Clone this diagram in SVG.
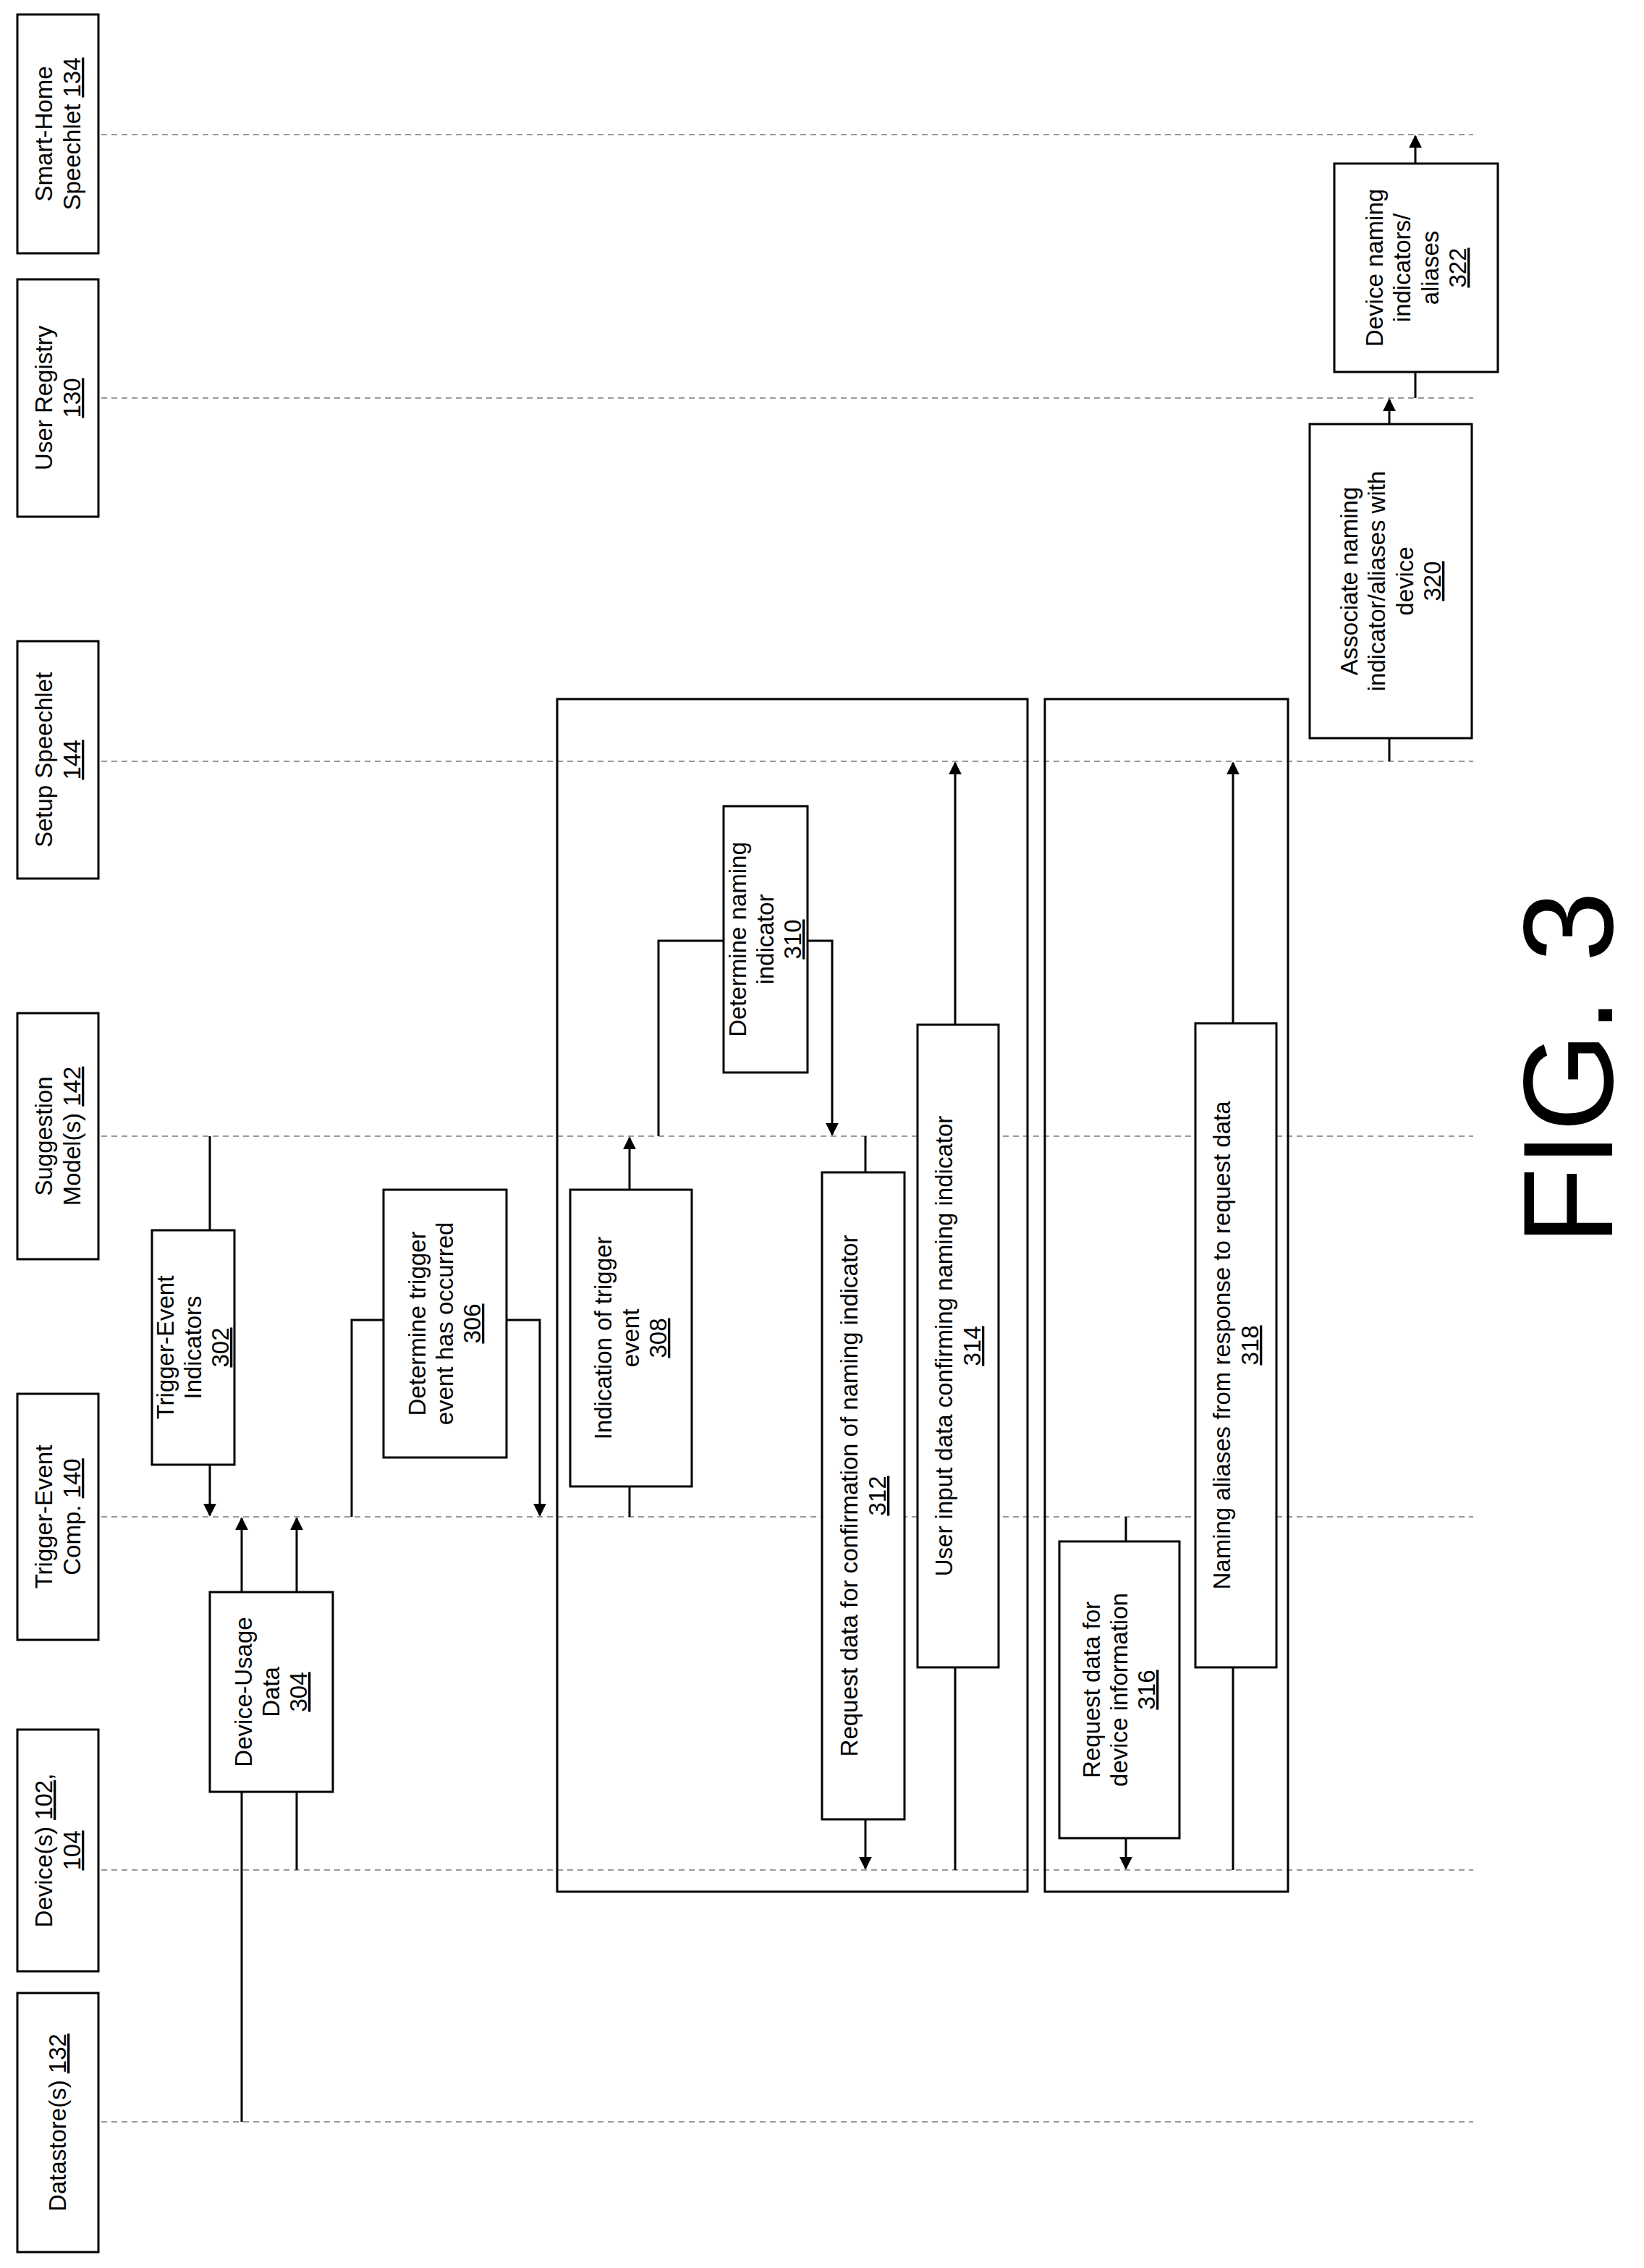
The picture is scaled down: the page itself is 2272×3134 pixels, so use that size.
<svg xmlns="http://www.w3.org/2000/svg" width="2272" height="3134" viewBox="0 0 2272 3134">
<style>
.b{fill:#fff;stroke:#000;stroke-width:3}
.f{fill:none;stroke:#000;stroke-width:3}
.l{fill:none;stroke:#000;stroke-width:3}
.d{fill:none;stroke:#999;stroke-width:2;stroke-dasharray:8 6}
text{font-family:"Liberation Sans",Arial,sans-serif;font-size:33px;text-anchor:middle;fill:#000}
.u{text-decoration:underline}
</style>
<defs><marker id="a" viewBox="0 0 10 10" refX="9" refY="5" markerWidth="18" markerHeight="18" orient="auto" markerUnits="userSpaceOnUse"><path d="M0,0L10,5L0,10z" fill="#000"/></marker></defs>
<rect width="2272" height="3134" fill="#fff"/>
<g id="lifelines">
<line class="d" x1="140" y1="186" x2="2036" y2="186"/>
<line class="d" x1="140" y1="550" x2="2036" y2="550"/>
<line class="d" x1="140" y1="1052" x2="2036" y2="1052"/>
<line class="d" x1="140" y1="1570" x2="2036" y2="1570"/>
<line class="d" x1="140" y1="2096" x2="2036" y2="2096"/>
<line class="d" x1="140" y1="2584" x2="2036" y2="2584"/>
<line class="d" x1="140" y1="2932" x2="2036" y2="2932"/>
</g>
<g id="frames">
<rect class="f" x="770" y="966" width="650" height="1648"/>
<rect class="f" x="1444" y="966" width="336" height="1648"/>
</g>
<g id="connectors">
<path class="l" d="M290,1570V1700"/><path class="l" d="M290,2024V2094" marker-end="url(#a)"/>
<path class="l" d="M334,2932V2098" marker-end="url(#a)"/>
<path class="l" d="M410,2584V2098" marker-end="url(#a)"/>
<path class="l" d="M486,2096V1824H530"/>
<path class="l" d="M700,1824H746V2094" marker-end="url(#a)"/>
<path class="l" d="M870,2096V2054"/><path class="l" d="M870,1644V1572" marker-end="url(#a)"/>
<path class="l" d="M910,1570V1300H1000"/>
<path class="l" d="M1116,1300H1150V1568" marker-end="url(#a)"/>
<path class="l" d="M1196,1570V1620"/><path class="l" d="M1196,2514V2582" marker-end="url(#a)"/>
<path class="l" d="M1320,2584V2304"/><path class="l" d="M1320,1416V1054" marker-end="url(#a)"/>
<path class="l" d="M1556,2096V2130"/><path class="l" d="M1556,2540V2582" marker-end="url(#a)"/>
<path class="l" d="M1704,2584V2304"/><path class="l" d="M1704,1414V1054" marker-end="url(#a)"/>
<path class="l" d="M1920,1052V1020"/><path class="l" d="M1920,586V552" marker-end="url(#a)"/>
<path class="l" d="M1956,550V514"/><path class="l" d="M1956,226V188" marker-end="url(#a)"/>
</g>
<g id="h134"><rect class="b" x="24" y="20" width="112" height="330"/><g transform="translate(80,185) rotate(-90)"><text y="-8">Smart-Home</text><text y="31">Speechlet <tspan class="u">134</tspan></text></g></g>
<g id="h130"><rect class="b" x="24" y="386" width="112" height="328"/><g transform="translate(80,550) rotate(-90)"><text y="-8">User Registry</text><text y="31" class="u">130</text></g></g>
<g id="h144"><rect class="b" x="24" y="886" width="112" height="328"/><g transform="translate(80,1050) rotate(-90)"><text y="-8">Setup Speechlet</text><text y="31" class="u">144</text></g></g>
<g id="h142"><rect class="b" x="24" y="1400" width="112" height="340"/><g transform="translate(80,1570) rotate(-90)"><text y="-8">Suggestion</text><text y="31">Model(s) <tspan class="u">142</tspan></text></g></g>
<g id="h140"><rect class="b" x="24" y="1926" width="112" height="340"/><g transform="translate(80,2096) rotate(-90)"><text y="-8">Trigger-Event</text><text y="31">Comp. <tspan class="u">140</tspan></text></g></g>
<g id="h102"><rect class="b" x="24" y="2390" width="112" height="334"/><g transform="translate(80,2557) rotate(-90)"><text y="-8">Device(s) <tspan class="u">102</tspan>,</text><text y="31" class="u">104</text></g></g>
<g id="h132"><rect class="b" x="24" y="2754" width="112" height="358"/><g transform="translate(80,2933) rotate(-90)"><text y="11">Datastore(s) <tspan class="u">132</tspan></text></g></g>
<g id="n302"><rect class="b" x="210" y="1700" width="114" height="324"/><g transform="translate(267,1862) rotate(-90)"><text y="-27">Trigger-Event</text><text y="11">Indicators</text><text y="49" class="u">302</text></g></g>
<g id="n304"><rect class="b" x="290" y="2200" width="170" height="276"/><g transform="translate(375,2338) rotate(-90)"><text y="-27">Device-Usage</text><text y="11">Data</text><text y="49" class="u">304</text></g></g>
<g id="n306"><rect class="b" x="530" y="1644" width="170" height="370"/><g transform="translate(615,1829) rotate(-90)"><text y="-27">Determine trigger</text><text y="11">event has occurred</text><text y="49" class="u">306</text></g></g>
<g id="n308"><rect class="b" x="788" y="1644" width="168" height="410"/><g transform="translate(872,1849) rotate(-90)"><text y="-27">Indication of trigger</text><text y="11">event</text><text y="49" class="u">308</text></g></g>
<g id="n310"><rect class="b" x="1000" y="1114" width="116" height="368"/><g transform="translate(1058,1298) rotate(-90)"><text y="-27">Determine naming</text><text y="11">indicator</text><text y="49" class="u">310</text></g></g>
<g id="n312"><rect class="b" x="1136" y="1620" width="114" height="894"/><g transform="translate(1193,2067) rotate(-90)"><text y="-8">Request data for confirmation of naming indicator</text><text y="31" class="u">312</text></g></g>
<g id="n314"><rect class="b" x="1268" y="1416" width="112" height="888"/><g transform="translate(1324,1860) rotate(-90)"><text y="-8">User input data confirming naming indicator</text><text y="31" class="u">314</text></g></g>
<g id="n316"><rect class="b" x="1464" y="2130" width="166" height="410"/><g transform="translate(1547,2335) rotate(-90)"><text y="-27">Request data for</text><text y="11">device information</text><text y="49" class="u">316</text></g></g>
<g id="n318"><rect class="b" x="1652" y="1414" width="112" height="890"/><g transform="translate(1708,1859) rotate(-90)"><text y="-8">Naming aliases from response to request data</text><text y="31" class="u">318</text></g></g>
<g id="n320"><rect class="b" x="1810" y="586" width="224" height="434"/><g transform="translate(1922,803) rotate(-90)"><text y="-46">Associate naming</text><text y="-8">indicator/aliases with</text><text y="31">device</text><text y="69" class="u">320</text></g></g>
<g id="n322"><rect class="b" x="1844" y="226" width="226" height="288"/><g transform="translate(1957,370) rotate(-90)"><text y="-46">Device naming</text><text y="-8">indicators/</text><text y="31">aliases</text><text y="69" class="u">322</text></g></g>
<g id="fig"><text transform="translate(2228,1476) rotate(-90)" style="font-size:176px">FIG. 3</text></g>
</svg>
